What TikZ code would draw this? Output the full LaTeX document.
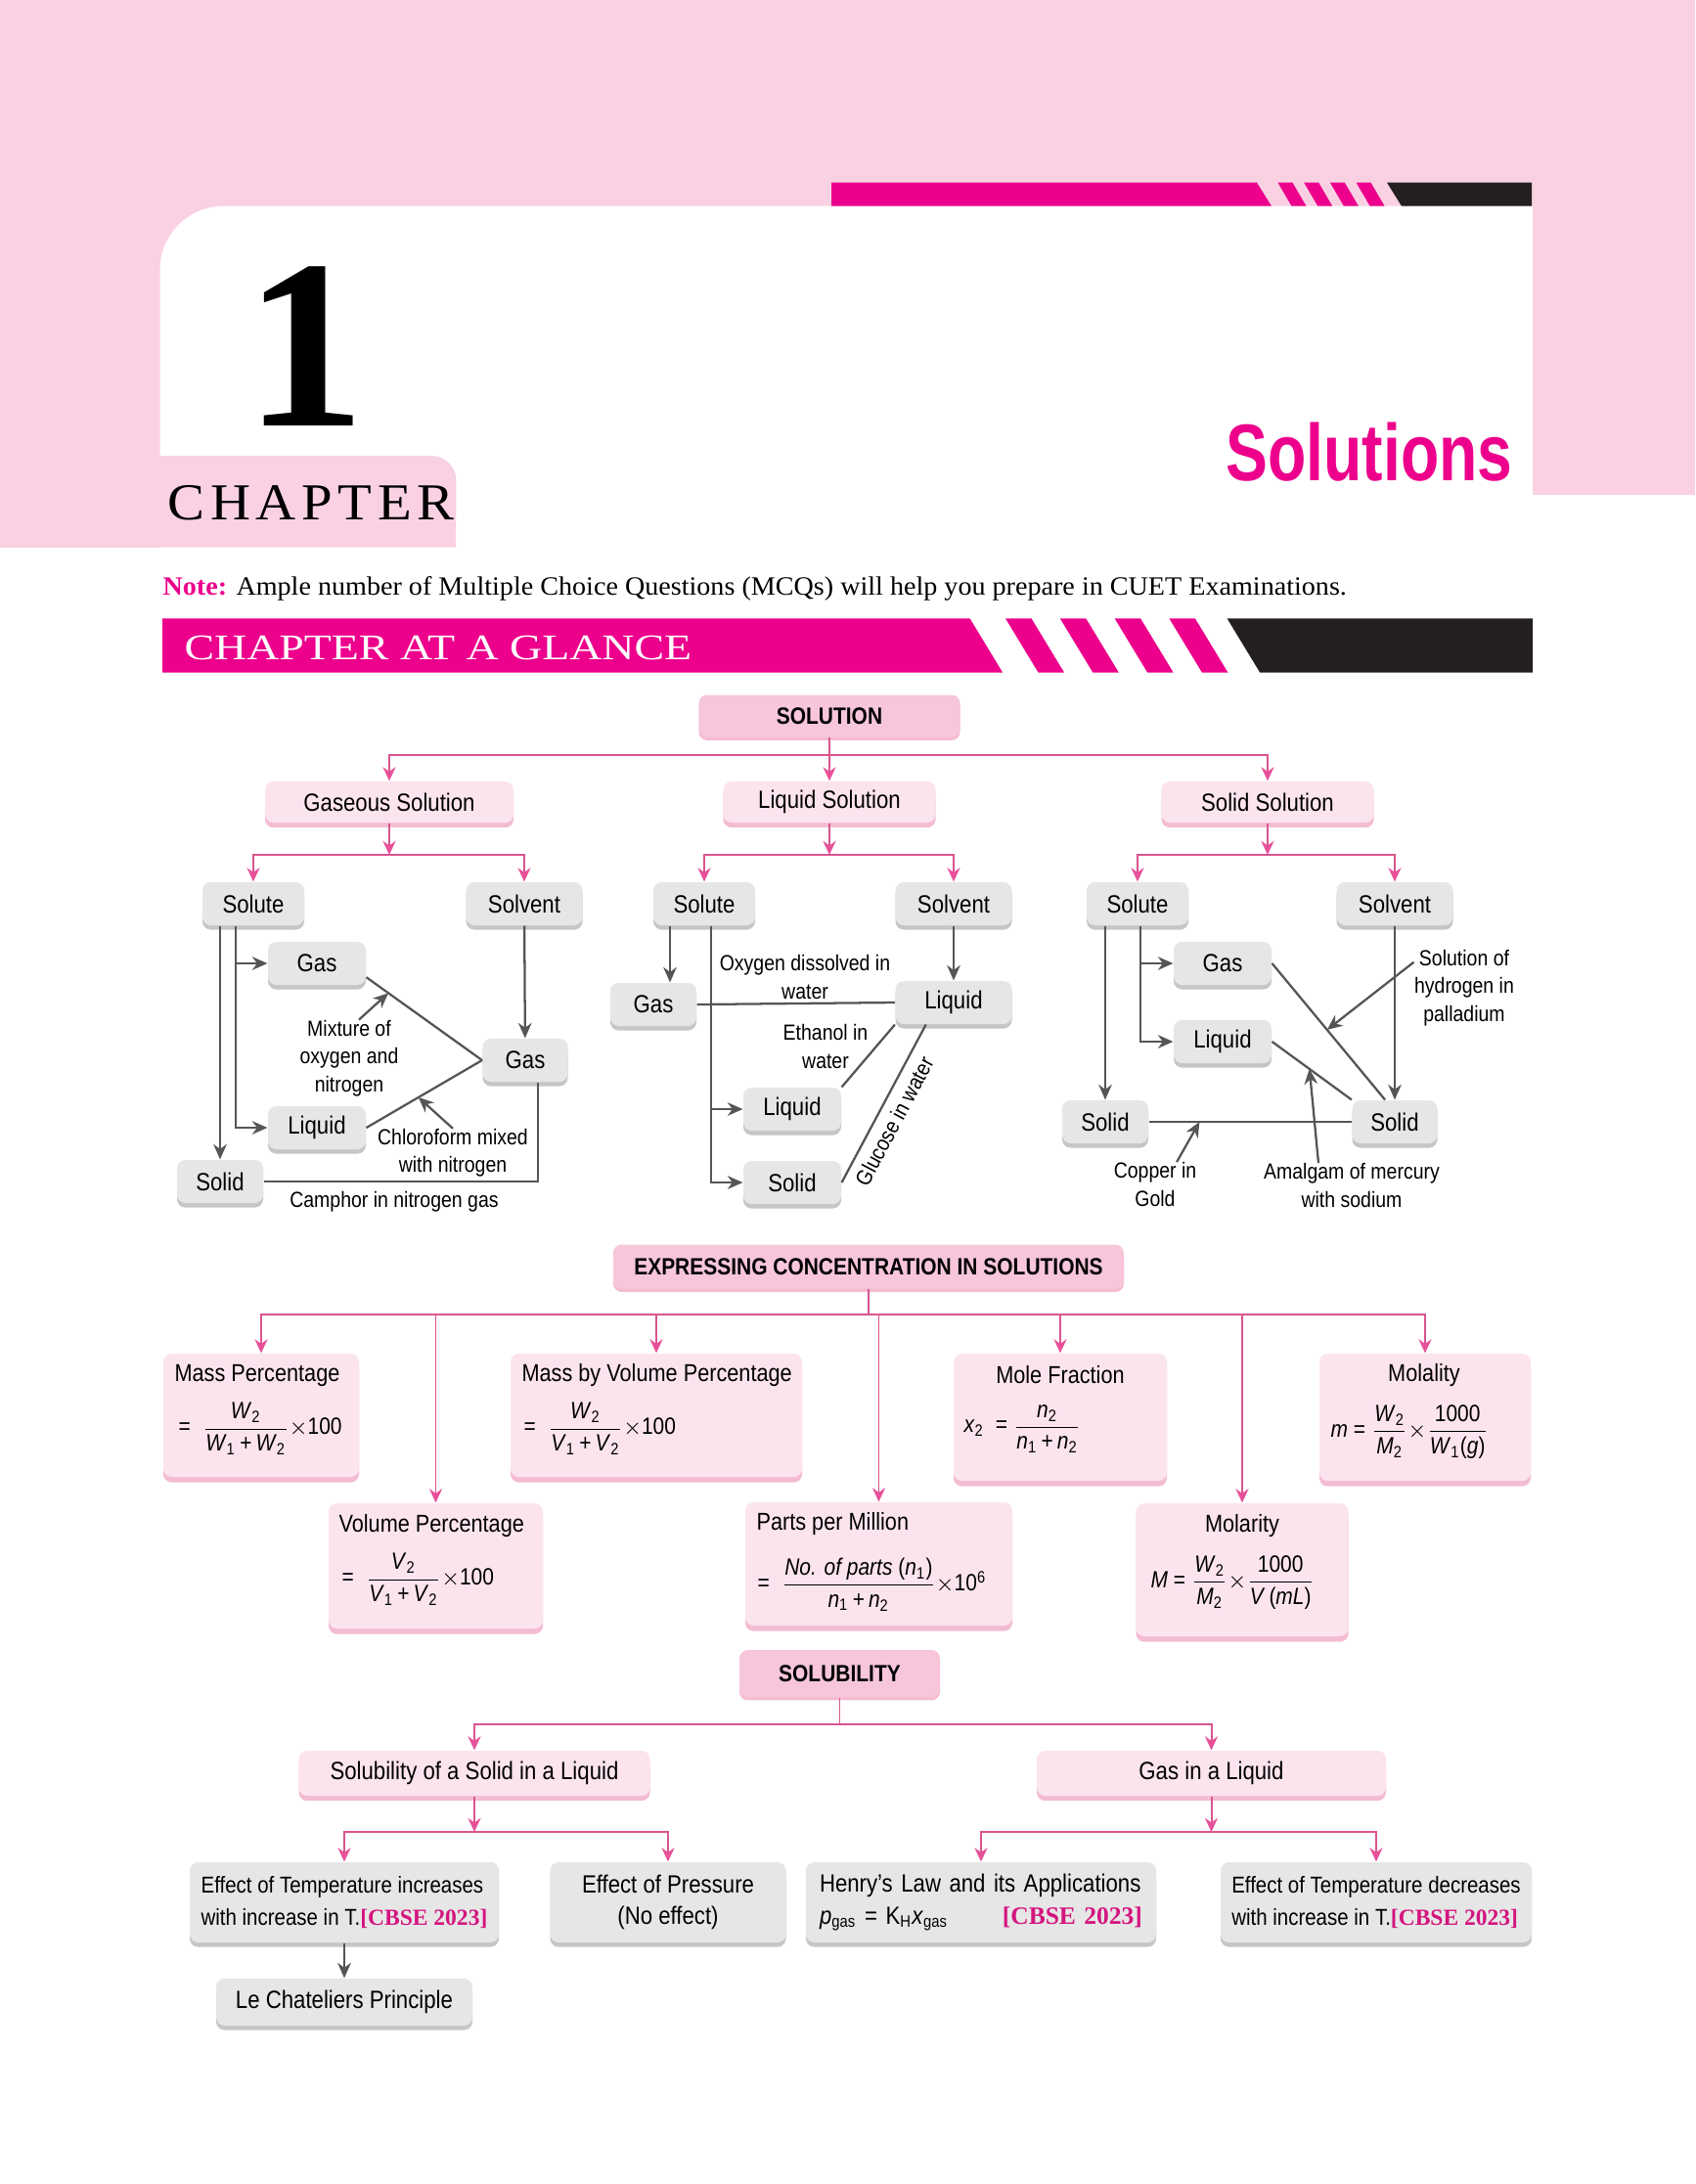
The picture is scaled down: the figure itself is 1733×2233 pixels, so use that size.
\documentclass[tikz,border=0pt]{standalone}
\usepackage{fontspec}
\usepackage{amsmath}
\setmainfont{Liberation Sans}[FakeStretch=0.87]
\newfontfamily\serif{Liberation Serif}
\usepackage{xcolor}
\usepackage{tikz}
\usetikzlibrary{arrows.meta,positioning,shadows,calc}

\definecolor{pagepink}{HTML}{F9D1E3}
\definecolor{brandpink}{HTML}{EC008C}
\definecolor{barblack}{HTML}{231F20}
\definecolor{headfill}{HTML}{F7C6DB}
\definecolor{boxfill}{HTML}{FCE4EE}
\definecolor{boxshade}{HTML}{F3BCD2}
\definecolor{itemfill}{HTML}{E6E6E6}
\definecolor{itemshade}{HTML}{C6C6C6}
\definecolor{linkpink}{HTML}{D9558F}
\definecolor{tippink}{HTML}{E8519A}
\definecolor{linkgray}{HTML}{555555}
\definecolor{cbsepink}{HTML}{D4147E}

\newcommand{\ppx}{*0.3528pt}
\newcommand{\cbse}{{\serif\bfseries\color{cbsepink}[CBSE 2023]}}
\newcommand{\mvar}[2]{\textit{#1}\textsubscript{#2}}
\newcommand{\mfrac}[2]{$\dfrac{\mbox{#1}}{\mbox{#2}}$}

\begin{document}
\begin{tikzpicture}[
  x=0.3528pt, y=-0.3528pt,
  font=\fontsize{9}{11}\selectfont,
  % Node styles
  wd/.style={minimum width=#1\ppx},
  headbox/.style={rectangle, rounded corners=3pt, fill=headfill, inner sep=0pt, font=\fontsize{8.5}{10}\selectfont\bfseries, general shadow={fill=boxshade, shadow yshift=-1.2pt}},
  subbox/.style={rectangle, rounded corners=3pt, fill=boxfill, inner sep=0pt, minimum height=42\ppx, general shadow={fill=boxshade, shadow yshift=-1.8pt}},
  item/.style={rectangle, rounded corners=3pt, fill=itemfill, inner sep=0pt, minimum height=44\ppx, general shadow={fill=itemshade, shadow yshift=-1.6pt}},
  formbox/.style={rectangle, rounded corners=3pt, fill=boxfill, inner sep=0pt, general shadow={fill=boxshade, shadow yshift=-2pt}},
  lbl/.style={align=center, inner sep=0pt, font=\fontsize{7.9}{10}\selectfont},
  ftitle/.style={inner sep=0pt, font=\fontsize{8.8}{10}\selectfont},
  ftext/.style={anchor=west, inner sep=0pt, font=\fontsize{8.5}{10}\selectfont},
  parr/.style={-{Stealth[length=5pt, width=4.6pt, color=tippink]}, line width=0.7pt, draw=linkpink},
  pline/.style={line width=0.7pt, draw=linkpink},
  garr/.style={-{Stealth[length=5.5pt, width=4.8pt]}, line width=0.8pt, draw=linkgray},
  gline/.style={line width=0.8pt, draw=linkgray}
]
  \useasboundingbox (0,0) rectangle (1733,2233);
  \fill[white] (0,0) rectangle (1733,2233);

  % Header: pink frame, bars and titles
  \fill[pagepink] (0,0) rectangle (1733,320);
  \fill[pagepink] (0,0) rectangle (163.5,559.5);
  \fill[white, rounded corners=23pt] (163.5,210.7) rectangle (1627,620);
  \fill[pagepink] (1567,0) rectangle (1733,505.5);
  \fill[pagepink] (150,559.5) -- (150,466) -- (441,466) arc[start angle=90, end angle=0, radius=9pt] -- (466,559.5) -- cycle;

  \fill[brandpink] (850,186.7) -- (1285,186.7) -- (1300,210.7) -- (850,210.7) -- cycle;
  \foreach \i in {0,...,3}
    \fill[brandpink] ({1306.5+26.7*\i},186.7) -- ++(15,0) -- ++(14,24) -- ++(-15,0) -- cycle;
  \fill[barblack] (1418,186.7) -- (1566,186.7) -- (1566,210.7) -- (1433,210.7) -- cycle;

  \node[anchor=base, inner sep=0pt, font=\serif\bfseries\fontsize{87}{87}\selectfont] (chapNum) at (312,435) {1};
  \node[anchor=base west, inner sep=0pt, font=\serif\fontsize{18.7}{19}\selectfont] (chapWord) at (171,531) {\resizebox{103.4pt}{\height}{\addfontfeature{LetterSpace=10}CHAPTER}};
  \node[anchor=base east, inner sep=0pt, text=brandpink, font=\bfseries\fontsize{29}{29}\selectfont] (chapTitle) at (1547,491) {\resizebox{103.4pt}{\height}{Solutions}};
  \node[anchor=base west, inner sep=0pt, font=\serif\fontsize{9.5}{11}\selectfont] (note) at (166,608) {\resizebox{427pt}{\height}{\textcolor{brandpink}{\bfseries Note:} Ample number of Multiple Choice Questions (MCQs) will help you prepare in CUET Examinations.}};

  \fill[brandpink] (166,632.3) -- (991.6,632.3) -- (1025.2,687.7) -- (166,687.7) -- cycle;
  \foreach \i in {0,...,3}
    \fill[brandpink] ({1028+55.8*\i},632.3) -- ++(26.5,0) -- ++(33.6,55.4) -- ++(-26.5,0) -- cycle;
  \fill[barblack] (1254.6,632.3) -- (1567,632.3) -- (1567,687.7) -- (1288.2,687.7) -- cycle;
  \node[anchor=base west, inner sep=0pt, text=white, font=\serif\fontsize{13}{13}\selectfont] (glance) at (188,674) {\resizebox{183pt}{\height}{CHAPTER AT A GLANCE}};

  % Section 1: Types of solution
  \node[headbox, wd=267, minimum height=43\ppx] (sol) at (848,732) {SOLUTION};
  \node[subbox, wd=254] (gasSol) at (398,820) {Gaseous Solution};
  \node[subbox, wd=217] (liqSol) at (848,820) {Liquid Solution};
  \node[subbox, wd=217] (solSol) at (1296,820) {Solid Solution};

  \coordinate (solJ) at (848,772);
  \draw[pline] (sol.south) -- (solJ);
  \draw[parr] (solJ) -| (gasSol.north);
  \draw[parr] (solJ) -- (liqSol.north);
  \draw[parr] (solJ) -| (solSol.north);

  % Gaseous solution
  \node[item, wd=104] (gSolute) at (259,924) {Solute};
  \node[item, wd=119] (gSolvent) at (536,924) {Solvent};
  \node[item, wd=100] (gGas) at (324,985) {Gas};
  \node[item, wd=100] (gLiq) at (324,1153) {Liquid};
  \node[item, wd=88] (gSolid) at (225,1208) {Solid};
  \node[item, wd=87] (gGas2) at (537,1084) {Gas};

  \coordinate (gasJ) at (398,874);
  \draw[parr] (gasSol.south) -- (gasJ);
  \draw[parr] (gasJ) -| (gSolute.north);
  \draw[parr] (gasJ) -| (gSolvent.north);

  \draw[garr] (gSolute.south -| gSolid) -- (gSolid);
  \path (gSolute.south) ++(-18,0) coordinate (gFork);
  \draw[garr] (gFork) |- (gLiq.west);
  \draw[garr] (gFork |- gGas.west) -- (gGas.west);
  \draw[garr] (gSolvent) -- (gGas2);
  \draw[gline] ([yshift=-5pt]gGas.east) -- coordinate[pos=0.19] (mixTip) (gGas2.west);
  \draw[gline] (gLiq.east) -- coordinate[pos=0.45] (chlTip) (gGas2.west);
  \node[lbl] (mixLbl) at (357,1082) {Mixture of\\oxygen and\\nitrogen};
  \draw[garr] ([xshift=3.5pt]mixLbl.north) -- (mixTip);
  \node[lbl] (chlLbl) at (463,1179) {Chloroform mixed\\with nitrogen};
  \draw[garr] (chlLbl.north) -- (chlTip);
  \draw[gline] ([xshift=4.6pt]gGas2.south) |- (gSolid.east);
  \node[lbl] (camLbl) at (403,1229) {Camphor in nitrogen gas};

  % Liquid solution
  \node[item, wd=104] (lSolute) at (720,924) {Solute};
  \node[item, wd=119] (lSolvent) at (975,924) {Solvent};
  \node[item, wd=88] (lGas) at (668,1027) {Gas};
  \node[item, wd=119] (lLiq2) at (975,1025) {Liquid};
  \node[item, wd=100] (lLiq) at (810,1134) {Liquid};
  \node[item, wd=100] (lSolid) at (810,1209) {Solid};

  \coordinate (liqJ) at (848,874);
  \draw[parr] (liqSol.south) -- (liqJ);
  \draw[parr] (liqJ) -| (lSolute.north);
  \draw[parr] (liqJ) -| (lSolvent.north);

  \path (lSolute.south) ++(-35,0) coordinate (lDrop);
  \draw[garr] (lDrop) -- (lDrop |- lGas.north);
  \path (lSolute.south) ++(7,0) coordinate (lFork);
  \draw[garr] (lFork) |- (lSolid.west);
  \draw[garr] (lFork |- lLiq.west) -- (lLiq.west);
  \draw[garr] (lSolvent) -- (lLiq2);
  \draw[gline] (lGas.east) -- (lLiq2.west);
  \node[lbl] (oxyLbl) at (823,999) {Oxygen dissolved in\\water};
  \draw[gline] (lLiq2.south west) -- (lLiq.north east);
  \node[lbl] (ethLbl) at (844,1070) {Ethanol in\\water};
  \draw[gline] (lSolid.east) -- node[lbl, sloped, below=3pt, pos=0.44] (gluLbl) {Glucose in water} ([xshift=-10pt]lLiq2.south);

  % Solid solution
  \node[item, wd=104] (sSolute) at (1163,924) {Solute};
  \node[item, wd=119] (sSolvent) at (1426,924) {Solvent};
  \node[item, wd=100] (sGas) at (1250,985) {Gas};
  \node[item, wd=100] (sLiq) at (1250,1065) {Liquid};
  \node[item, wd=88] (sSolid) at (1130,1147) {Solid};
  \node[item, wd=87] (sSolid2) at (1426,1147) {Solid};

  \coordinate (sldJ) at (1296,874);
  \draw[parr] (solSol.south) -- (sldJ);
  \draw[parr] (sldJ) -| (sSolute.north);
  \draw[parr] (sldJ) -| (sSolvent.north);

  \draw[garr] (sSolute.south -| sSolid) -- (sSolid);
  \path (sSolute.south) ++(3,0) coordinate (sFork);
  \draw[garr] (sFork) |- (sLiq.west);
  \draw[garr] (sFork |- sGas.west) -- (sGas.west);
  \draw[garr] (sSolvent) -- (sSolid2);
  \draw[gline] (sGas.east) -- coordinate[pos=0.487] (hydTip) ([xshift=-3.5pt]sSolid2.north);
  \draw[gline] (sLiq.east) -- coordinate[pos=0.47] (amaTip) (sSolid2.north west);
  \draw[gline] (sSolid.east) -- coordinate[pos=0.25] (copTip) (sSolid2.west);
  \node[lbl] (hydLbl) at (1497,1010) {Solution of\\hydrogen in\\palladium};
  \draw[garr] ([yshift=-4.6pt]hydLbl.north west) -- (hydTip);
  \node[lbl] (copLbl) at (1181,1211) {Copper in\\Gold};
  \draw[garr] ([xshift=7.8pt]copLbl.north) -- (copTip);
  \node[lbl] (amaLbl) at (1382,1212) {Amalgam of mercury\\with sodium};
  \draw[garr] ([xshift=-12pt]amaLbl.north) -- (amaTip);

  % Section 2: Expressing concentration
  \node[headbox, wd=522, minimum height=45\ppx] (conc) at (888,1295) {EXPRESSING CONCENTRATION IN SOLUTIONS};
  \node[formbox, wd=200, minimum height=126\ppx] (massP) at (267,1447) {};
  \node[formbox, wd=298, minimum height=126\ppx] (mvP) at (671,1447) {};
  \node[formbox, wd=218, minimum height=130\ppx] (moleF) at (1084,1449) {};
  \node[formbox, wd=216, minimum height=130\ppx] (molality) at (1457,1449) {};
  \node[formbox, wd=219, minimum height=128\ppx] (volP) at (445.5,1601) {};
  \node[formbox, wd=273, minimum height=126\ppx] (ppm) at (898.5,1599) {};
  \node[formbox, wd=217, minimum height=136\ppx] (molarity) at (1270,1605) {};

  \coordinate (concJ) at (888,1344);
  \draw[pline] (conc.south) -- (concJ);
  \draw[parr] (concJ) -| (massP.north);
  \draw[parr] (concJ) -| (volP.north);
  \draw[parr] (concJ) -| (mvP.north);
  \draw[parr] (concJ) -| (ppm.north);
  \draw[parr] (concJ) -| (moleF.north);
  \draw[parr] (concJ) -| (molarity.north);
  \draw[parr] (concJ) -| (molality.north);

  \node[ftitle, anchor=west] (massPt) at (178,1406) {Mass Percentage};
  \node[ftext] (massPf) at (182,1461) {=\enspace\mfrac{\mvar{W}{2}}{\mvar{W}{1}\,+\,\mvar{W}{2}}$\times$100};
  \node[ftitle, anchor=west] (mvPt) at (533,1406) {Mass by Volume Percentage};
  \node[ftext] (mvPf) at (535,1461) {=\enspace\mfrac{\mvar{W}{2}}{\mvar{V}{1}\,+\,\mvar{V}{2}}$\times$100};
  \node[ftitle] (moleFt) at (1084,1406) {Mole Fraction};
  \node[ftext] (moleFf) at (985,1461) {\mvar{x}{2}\ \ =\ \mfrac{\mvar{n}{2}}{\mvar{n}{1}\,+\,\mvar{n}{2}}};
  \node[ftitle] (molalityt) at (1456,1406) {Molality};
  \node[ftext] (molalityf) at (1360,1464) {\textit{m}\ =\ \mfrac{\mvar{W}{2}}{\mvar{M}{2}}$\times$\mfrac{1000}{\mvar{W}{1}(\textit{g})}};
  \node[ftitle, anchor=west] (volPt) at (346,1560) {Volume Percentage};
  \node[ftext] (volPf) at (349,1615) {=\enspace\mfrac{\mvar{V}{2}}{\mvar{V}{1}\,+\,\mvar{V}{2}}$\times$100};
  \node[ftitle, anchor=west] (ppmt) at (773,1558) {Parts per Million};
  \node[ftext] (ppmf) at (774,1620) {=\enspace\mfrac{\textit{No. of parts} (\mvar{n}{1})}{\mvar{n}{1}\,+\,\mvar{n}{2}}$\times$10\textsuperscript{6}};
  \node[ftitle] (molarityt) at (1270,1560) {Molarity};
  \node[ftext] (molarityf) at (1176,1618) {\textit{M}\ =\ \mfrac{\mvar{W}{2}}{\mvar{M}{2}}$\times$\mfrac{1000}{\textit{V}\,(\textit{mL})}};

  % Section 3: Solubility
  \node[headbox, wd=205, minimum height=48\ppx] (solub) at (858.5,1711) {SOLUBILITY};
  \node[subbox, wd=359, minimum height=46\ppx] (ssl) at (485,1813) {Solubility of a Solid in a Liquid};
  \node[subbox, wd=357, minimum height=46\ppx] (gil) at (1238.5,1813) {Gas in a Liquid};

  \coordinate (solubJ) at (858.5,1763);
  \draw[pline] (solub.south) -- (solubJ);
  \draw[parr] (solubJ) -| (ssl.north);
  \draw[parr] (solubJ) -| (gil.north);

  \node[item, wd=316, minimum height=82\ppx, align=left, font=\fontsize{8.3}{11.4}\selectfont] (effTinc) at (352,1945) {Effect of Temperature increases\\with increase in T.\cbse};
  \node[item, wd=241, minimum height=82\ppx, align=center, font=\fontsize{9}{11.4}\selectfont] (effP) at (683,1945) {Effect of Pressure\\(No effect)};
  \node[item, wd=358, minimum height=82\ppx, align=left, text width=330\ppx, font=\fontsize{9}{11.4}\selectfont] (henry) at (1003,1945) {Henry's Law and its Applications\\\mvar{p}{gas} = K\textsubscript{H}\mvar{x}{gas}\hfill\cbse};
  \node[item, wd=318, minimum height=82\ppx, align=left, font=\fontsize{8.3}{11.4}\selectfont] (effTdec) at (1407,1945) {Effect of Temperature decreases\\with increase in T.\cbse};
  \node[item, wd=262, minimum height=48\ppx] (lech) at (352,2047) {Le Chateliers Principle};

  \coordinate (sslJ) at (485,1873);
  \draw[parr] (ssl.south) -- (sslJ);
  \draw[parr] (sslJ) -| (effTinc.north);
  \draw[parr] (sslJ) -| (effP.north);
  \coordinate (gilJ) at (1238.5,1873);
  \draw[parr] (gil.south) -- (gilJ);
  \draw[parr] (gilJ) -| (henry.north);
  \draw[parr] (gilJ) -| (effTdec.north);
  \draw[garr] (effTinc) -- (lech);

\end{tikzpicture}
\end{document}
